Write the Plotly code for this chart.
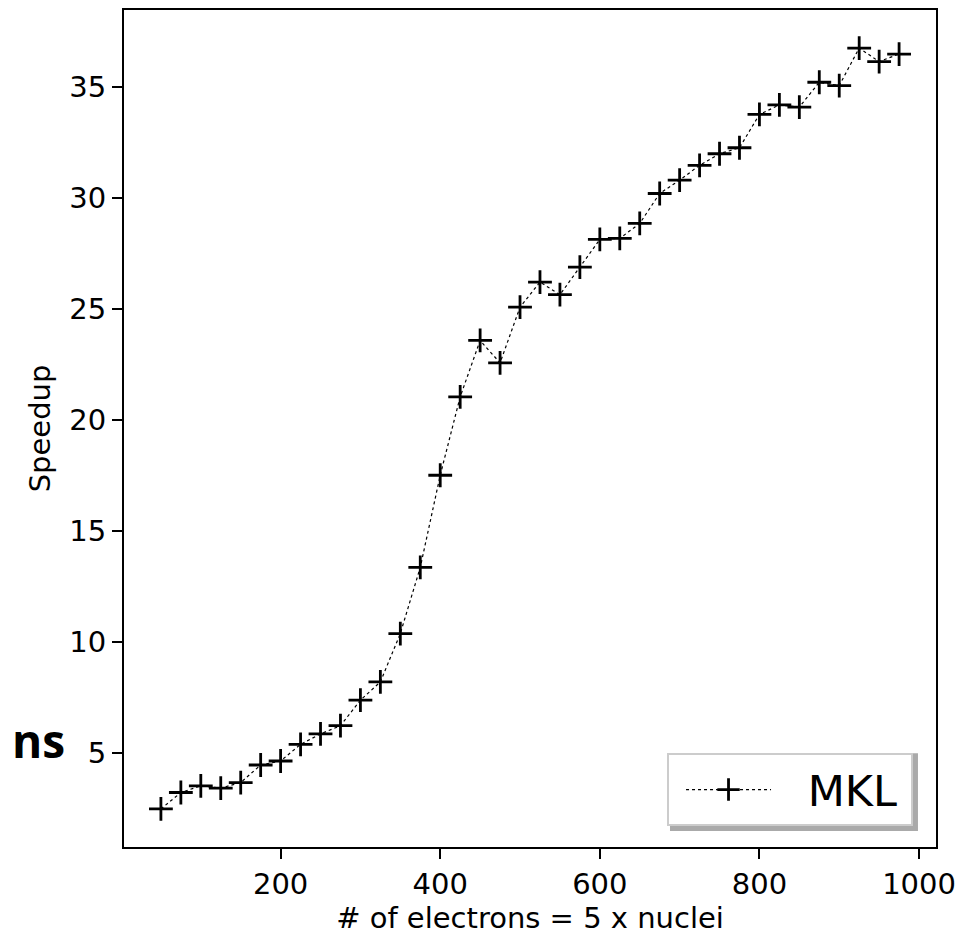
import plotly.graph_objects as go

electrons = [50, 75, 100, 125, 150, 175, 200, 225, 250, 275, 300, 325, 350, 375,
             400, 425, 450, 475, 500, 525, 550, 575, 600, 625, 650, 675, 700, 725,
             750, 775, 800, 825, 850, 875, 900, 925, 950, 975]
speedup = [2.49, 3.23, 3.53, 3.43, 3.68, 4.47, 4.65, 5.40, 5.87, 6.24, 7.39, 8.21,
           10.39, 13.37, 17.52, 21.05, 23.59, 22.58, 25.09, 26.22, 25.65, 26.89,
           28.14, 28.19, 28.86, 30.21, 30.81, 31.48, 32.00, 32.27, 33.77, 34.20,
           34.10, 35.22, 35.07, 36.76, 36.15, 36.49]
x_ticks = [200, 400, 600, 800, 1000]
y_ticks = [5, 10, 15, 20, 25, 30, 35]
series_name = "MKL"

font_family = "DejaVu Sans"

fig = go.Figure()
fig.add_trace(go.Scatter(
    x=electrons, y=speedup, mode="lines+markers",
    name="\u00a0\u00a0\u200a" + series_name + "\u2009",
    line=dict(color="black", width=1.2, dash="dot"),
    marker=dict(symbol="cross-thin", size=17, color="black",
                line=dict(color="black", width=2.8)),
))

xmin, xmax = min(electrons), max(electrons)
ymin, ymax = min(speedup), max(speedup)
xm = (xmax - xmin) * 0.05
ym = (ymax - ymin) * 0.05

axis_common = dict(
    showline=True, linecolor="black", linewidth=2, mirror=True,
    ticks="outside", ticklen=10, tickwidth=2, tickcolor="black",
    showgrid=False, zeroline=False,
    tickfont=dict(family=font_family, size=29, color="black"),
)

fig.update_layout(
    width=957, height=928,
    margin=dict(l=116, r=29, t=0, b=89),
    paper_bgcolor="white", plot_bgcolor="white",
    font=dict(family=font_family, color="black"),
    xaxis=dict(range=[xmin - xm, xmax + xm], tickvals=x_ticks,
               title=dict(text="# of electrons = 5 x nuclei",
                          font=dict(family=font_family, size=29), standoff=4),
               **axis_common),
    yaxis=dict(range=[ymin - ym, ymax + ym], tickvals=y_ticks,
               title=dict(text="Speedup",
                          font=dict(family=font_family, size=29), standoff=10),
               **axis_common),
    showlegend=True,
    legend=dict(
        x=0.9717, y=0.025, xanchor="right", yanchor="bottom",
        bgcolor="white", bordercolor="#cccccc", borderwidth=2,
        font=dict(family=font_family, size=43, color="black"),
        itemwidth=85, indentation=12,
    ),
    shapes=[dict(type="rect", xref="paper", yref="paper",
                 x0=0.6724, x1=0.9778, y0=0.0191, y1=0.1120,
                 fillcolor="#aaaaaa", line=dict(width=0), layer="above")],
    annotations=[dict(text="<b>ns</b>", xref="paper", yref="paper",
                      x=-0.070, y=0.0882, xanchor="right", yanchor="bottom",
                      showarrow=False,
                      font=dict(family="Open Sans", size=46, color="black"))],
)

fig.write_html("out.html")
